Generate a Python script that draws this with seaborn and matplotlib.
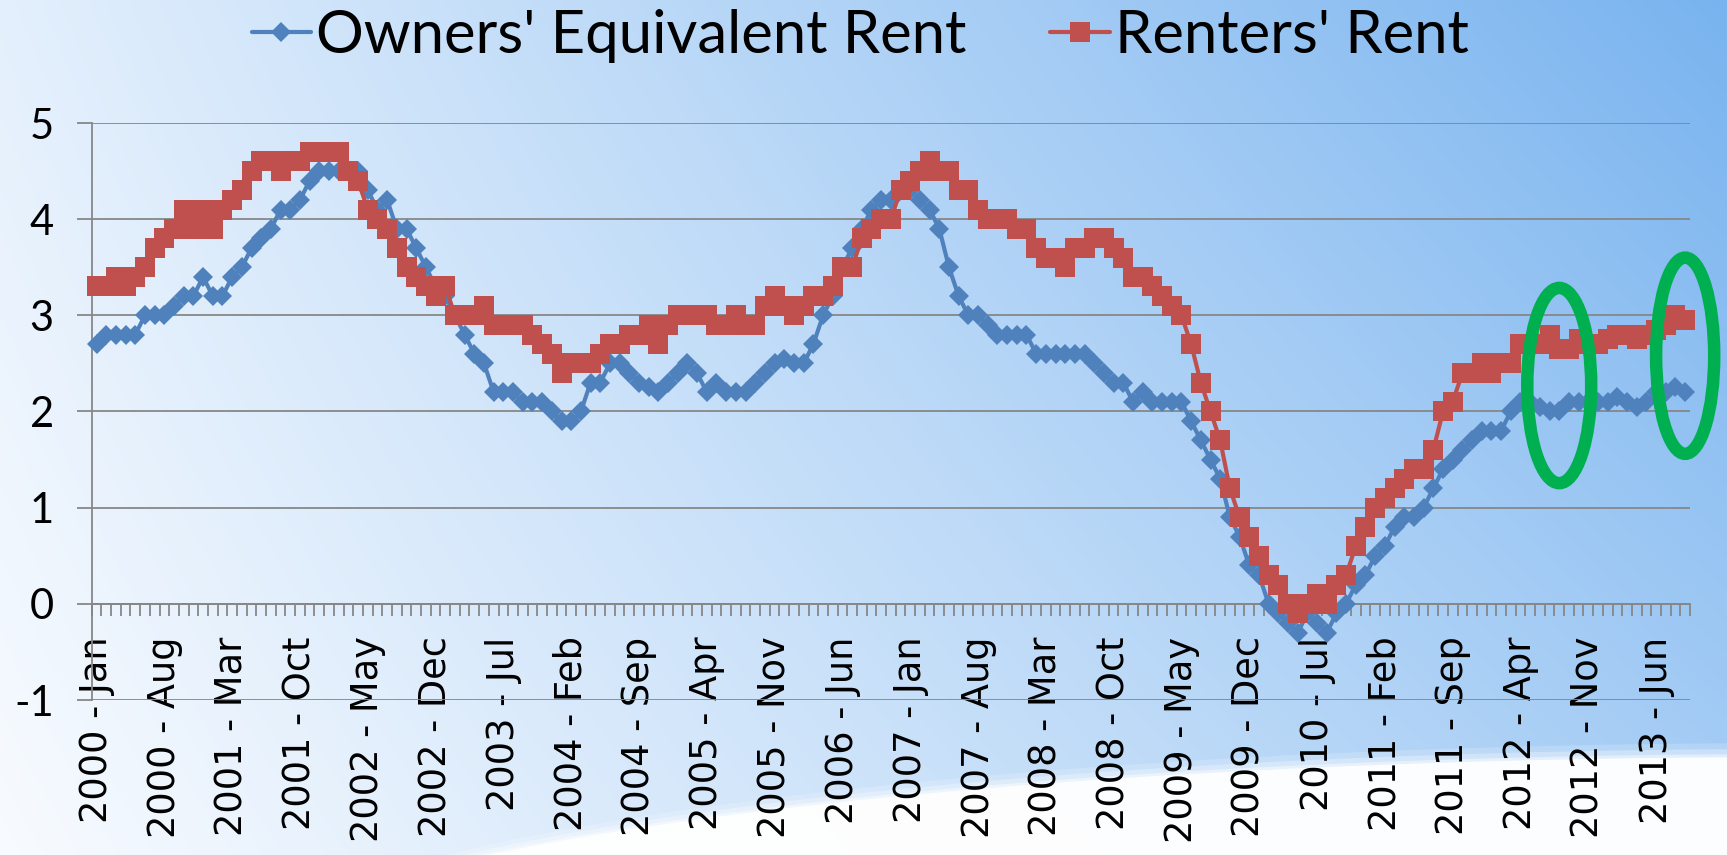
import numpy as np
import pandas as pd
import matplotlib
matplotlib.use("Agg")
import matplotlib.pyplot as plt
import seaborn as sns
from matplotlib.lines import Line2D
from matplotlib.patches import Ellipse

# ---------------- data ----------------
years = list(range(2000, 2014))
month_names = ["Jan", "Feb", "Mar", "Apr", "May", "Jun",
               "Jul", "Aug", "Sep", "Oct", "Nov", "Dec"]
n_months = 165  # 2000-Jan .. 2013-Sep
categories = [f"{y} - {m}" for y in years for m in month_names][:n_months]

owners_equiv_rent = [
    2.7, 2.8, 2.8, 2.8, 2.8, 3.0, 3.0, 3.0, 3.1, 3.2, 3.2, 3.4,   # 2000
    3.2, 3.2, 3.4, 3.5, 3.7, 3.8, 3.9, 4.1, 4.1, 4.2, 4.4, 4.5,   # 2001
    4.5, 4.5, 4.5, 4.5, 4.3, 4.1, 4.2, 3.9, 3.9, 3.7, 3.5, 3.3,   # 2002
    3.2, 3.0, 2.8, 2.6, 2.5, 2.2, 2.2, 2.2, 2.1, 2.1, 2.1, 2.0,   # 2003
    1.9, 1.9, 2.0, 2.3, 2.3, 2.5, 2.5, 2.4, 2.3, 2.25, 2.2, 2.3,  # 2004
    2.4, 2.5, 2.4, 2.2, 2.3, 2.2, 2.2, 2.2, 2.3, 2.4, 2.5, 2.55,  # 2005
    2.5, 2.5, 2.7, 3.0, 3.2, 3.5, 3.7, 3.9, 4.1, 4.2, 4.2, 4.3,   # 2006
    4.3, 4.2, 4.1, 3.9, 3.5, 3.2, 3.0, 3.0, 2.9, 2.8, 2.8, 2.8,   # 2007
    2.8, 2.6, 2.6, 2.6, 2.6, 2.6, 2.6, 2.5, 2.4, 2.3, 2.3, 2.1,   # 2008
    2.2, 2.1, 2.1, 2.1, 2.1, 1.9, 1.7, 1.5, 1.3, 0.9, 0.7, 0.4,   # 2009
    0.3, 0.0, -0.1, -0.2, -0.3, -0.1, -0.2, -0.3, -0.1, 0.0, 0.2, 0.3,  # 2010
    0.5, 0.6, 0.8, 0.9, 0.9, 1.0, 1.2, 1.4, 1.5, 1.6, 1.7, 1.8,   # 2011
    1.8, 1.8, 2.0, 2.1, 2.1, 2.05, 2.0, 2.0, 2.1, 2.1, 2.1, 2.1,  # 2012
    2.1, 2.15, 2.1, 2.05, 2.1, 2.2, 2.2, 2.25, 2.2,               # 2013
]

renters_rent = [
    3.3, 3.3, 3.4, 3.3, 3.4, 3.5, 3.7, 3.8, 3.9, 4.1, 3.9, 4.1,   # 2000
    3.9, 4.1, 4.2, 4.3, 4.5, 4.6, 4.6, 4.5, 4.6, 4.6, 4.7, 4.7,   # 2001
    4.7, 4.7, 4.5, 4.4, 4.1, 4.0, 3.9, 3.7, 3.5, 3.4, 3.3, 3.2,   # 2002
    3.3, 3.0, 3.0, 3.0, 3.1, 2.9, 2.9, 2.9, 2.9, 2.8, 2.7, 2.6,   # 2003
    2.4, 2.5, 2.5, 2.5, 2.6, 2.7, 2.7, 2.8, 2.8, 2.9, 2.7, 2.9,   # 2004
    3.0, 3.0, 3.0, 3.0, 2.9, 2.9, 3.0, 2.9, 2.9, 3.1, 3.2, 3.1,   # 2005
    3.0, 3.1, 3.2, 3.2, 3.3, 3.5, 3.5, 3.8, 3.9, 4.0, 4.0, 4.3,   # 2006
    4.4, 4.5, 4.6, 4.5, 4.5, 4.3, 4.3, 4.1, 4.0, 4.0, 4.0, 3.9,   # 2007
    3.9, 3.7, 3.6, 3.6, 3.5, 3.7, 3.7, 3.8, 3.8, 3.7, 3.6, 3.4,   # 2008
    3.4, 3.3, 3.2, 3.1, 3.0, 2.7, 2.3, 2.0, 1.7, 1.2, 0.9, 0.7,   # 2009
    0.5, 0.3, 0.2, 0.0, -0.1, 0.0, 0.1, 0.0, 0.2, 0.3, 0.6, 0.8,  # 2010
    1.0, 1.1, 1.2, 1.3, 1.4, 1.4, 1.6, 2.0, 2.1, 2.4, 2.4, 2.5,   # 2011
    2.4, 2.5, 2.5, 2.7, 2.7, 2.7, 2.8, 2.65, 2.65, 2.75, 2.7, 2.7,  # 2012
    2.75, 2.8, 2.8, 2.75, 2.8, 2.85, 2.9, 3.0, 2.95,              # 2013
]

series_names = ["Owners' Equivalent Rent", "Renters' Rent"]
y_ticks = [-1, 0, 1, 2, 3, 4, 5]
label_step = 7

# highlighted periods (category index, value centre)
highlights = [(151, 2.27), (164, 2.58)]

# ---------------- style ----------------
BLUE = "#4F81BD"
RED = "#C0504D"
GREEN = "#00B050"
GRID = "#878787"

sns.set_theme(style="white")
plt.rcParams["font.family"] = ["DejaVu Sans"]
plt.rcParams["text.color"] = "black"

W, H = 1727, 855
fig = plt.figure(figsize=(W / 100, H / 100), dpi=100)

# ---- background gradient + white swoosh ----
bg = fig.add_axes([0, 0, 1, 1], zorder=-10)
yy, xx = np.mgrid[0:H, 0:W]
xf = xx / (W - 1)
yf = 1 - yy / (H - 1)
t = xf * (0.58 + 0.2 * yf) + 0.15 * yf
t = np.clip(t, 0, 1)
c0 = np.array([248, 251, 255]) / 255
c1 = np.array([111, 174, 238]) / 255
img = c0[None, None, :] * (1 - t[..., None]) + c1[None, None, :] * t[..., None]
bg.imshow(img, extent=[0, W, H, 0], aspect="auto")
for grow, alpha in [(14, 0.18), (8, 0.3), (3, 0.45), (0, 0.9)]:
    bg.add_patch(Ellipse((1800, 967), 2 * (1550 + grow), 2 * (210 + grow),
                         facecolor="white", edgecolor="none", alpha=alpha))
bg.set_xlim(0, W)
bg.set_ylim(H, 0)
bg.axis("off")

# ---- main axes ----
ax_left, ax_right, ax_top, ax_bottom = 91.7, 1690, 123, 700
ax = fig.add_axes([ax_left / W, 1 - ax_bottom / H,
                   (ax_right - ax_left) / W, (ax_bottom - ax_top) / H])
ax.set_facecolor("none")

df = pd.DataFrame({
    "idx": np.arange(len(categories)),
    "category": categories,
    series_names[0]: owners_equiv_rent,
    series_names[1]: renters_rent,
})

sns.lineplot(data=df, x="idx", y=series_names[0], ax=ax, color=BLUE,
             marker="D", markersize=10.5, markeredgewidth=0, linewidth=3,
             clip_on=False, zorder=3)
sns.lineplot(data=df, x="idx", y=series_names[1], ax=ax, color=RED,
             marker="s", markersize=14, markeredgewidth=0, linewidth=3,
             clip_on=False, zorder=4)

ax.set_xlim(-0.5, len(categories) - 0.5)
ax.set_ylim(y_ticks[0], y_ticks[-1])
ax.set_xlabel("")
ax.set_ylabel("")

# y axis
ax.set_yticks(y_ticks)
ax.set_yticklabels([str(v) for v in y_ticks], fontfamily="Lato", fontsize=30,
                   color="black")
ax.yaxis.grid(True, color=GRID, linewidth=1.3)
ax.set_axisbelow(True)
ax.tick_params(axis="y", direction="out", length=10.8, width=1.3,
               color=GRID, pad=16.5, left=True)

# x axis (category axis crossing at 0)
ax.spines["bottom"].set_position(("data", 0))
for s in ["top", "right"]:
    ax.spines[s].set_visible(False)
for s in ["left", "bottom"]:
    ax.spines[s].set_color(GRID)
    ax.spines[s].set_linewidth(1.3)

major_pos = list(range(0, len(categories), label_step))
ax.set_xticks(major_pos)
ax.set_xticklabels([categories[i] for i in major_pos], rotation=90,
                   fontsize=26.5, fontfamily="DejaVu Sans", color="black")
ax.set_xticks(np.arange(-0.5, len(categories) + 0.5, 1), minor=True)
ax.tick_params(axis="x", which="major", length=0, pad=23.5, bottom=True)
ax.tick_params(axis="x", which="minor", length=8.6, width=1.3, color=GRID,
               direction="out", bottom=True)

# highlight ellipses
for (cx, cy), (w, h) in zip(highlights, [(6.6, 2.03), (6.0, 2.04)]):
    ax.add_patch(Ellipse((cx, cy), w, h, fill=False, edgecolor=GREEN,
                         linewidth=9, clip_on=False, zorder=6))

# legend
handles = [
    Line2D([0], [0], color=BLUE, marker="D", markersize=10.5,
           markeredgewidth=0, lw=3),
    Line2D([0], [0], color=RED, marker="s", markersize=14,
           markeredgewidth=0, lw=3),
]
fig.legend(handles, series_names, loc="center", bbox_to_anchor=(0.498, 0.958),
           ncol=2, frameon=False, prop={"family": "Lato", "size": 43},
           handlelength=1.0, handletextpad=0.08, columnspacing=1.4,
           borderpad=0, borderaxespad=0, labelcolor="black")

fig.savefig("out.png", dpi=100)
